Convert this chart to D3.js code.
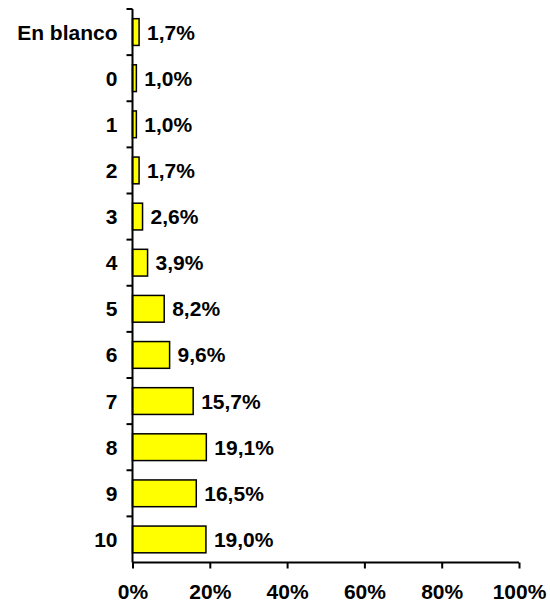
<!DOCTYPE html>
<html>
<head>
<meta charset="utf-8">
<script src="https://cdn.jsdelivr.net/npm/d3@7"></script>
<style>
  body { margin: 0; background: #fff; }
  text { font-family: "Liberation Sans", Arial, sans-serif; font-weight: bold; fill: #000; }
</style>
</head>
<body>
<script>
// categories and percentages
var categories = ["En blanco", "0", "1", "2", "3", "4", "5", "6", "7", "8", "9", "10"];
var values = [1.7, 1.0, 1.0, 1.7, 2.6, 3.9, 8.2, 9.6, 15.7, 19.1, 16.5, 19.0];
var xTicks = [0, 20, 40, 60, 80, 100];

var width = 550,
    height = 610,
    plotLeft = 132.5,
    plotRight = 519,
    plotTop = 9,
    plotBottom = 562.5,
    fontSize = "21px";

var data = categories.map(function (c, i) {
    return {cat: c, value: values[i]};
});

var svg = d3.select("body")
    .append("svg")
    .attr("width", width)
    .attr("height", height);

var x = d3.scaleLinear()
    .domain([0, 100])
    .range([plotLeft, plotRight]);

var y = d3.scaleBand()
    .domain(categories)
    .range([plotTop, plotBottom])
    .paddingInner(0.42)
    .paddingOuter(0.21);

// bars
svg.selectAll(".bar")
    .data(data)
    .enter()
    .append("rect")
    .attr("class", "bar")
    .attr("x", x(0))
    .attr("y", function (d) { return y(d.cat); })
    .attr("width", function (d) { return x(d.value) - x(0); })
    .attr("height", y.bandwidth())
    .attr("fill", "#ffff00")
    .attr("stroke", "#000")
    .attr("stroke-width", 1.5);

// value labels
svg.selectAll(".val")
    .data(data)
    .enter()
    .append("text")
    .attr("class", "val")
    .attr("x", function (d) { return x(d.value) + 8; })
    .attr("y", function (d) { return y(d.cat) + y.bandwidth() / 2; })
    .attr("dy", "0.36em")
    .attr("font-size", fontSize)
    .text(function (d) { return d.value.toFixed(1).replace(".", ",") + "%"; });

// category labels
svg.selectAll(".cat")
    .data(categories)
    .enter()
    .append("text")
    .attr("class", "cat")
    .attr("x", plotLeft - 15)
    .attr("y", function (d) { return y(d) + y.bandwidth() / 2; })
    .attr("dy", "0.36em")
    .attr("text-anchor", "end")
    .attr("font-size", fontSize)
    .text(function (d) { return d; });

// y axis line + ticks at category boundaries
var g = svg.append("g").attr("stroke", "#000").attr("stroke-width", 2);
g.append("line")
    .attr("x1", plotLeft).attr("x2", plotLeft)
    .attr("y1", plotTop).attr("y2", plotBottom);
d3.range(categories.length).forEach(function (i) {
    var yy = plotTop + i * y.step();
    g.append("line")
        .attr("x1", plotLeft - 6).attr("x2", plotLeft)
        .attr("y1", yy).attr("y2", yy);
});

// x axis
var xAxis = d3.axisBottom(x)
    .tickValues(xTicks)
    .tickSize(6)
    .tickPadding(16)
    .tickFormat(function (d) { return d + "%"; });

var ax = svg.append("g")
    .attr("transform", "translate(0," + plotBottom + ")")
    .call(xAxis);
ax.select(".domain").attr("stroke", "#000").attr("stroke-width", 2)
    .attr("d", "M" + plotLeft + ",0H" + plotRight);
ax.selectAll(".tick line").attr("stroke", "#000").attr("stroke-width", 2);
ax.selectAll(".tick text")
    .attr("font-size", fontSize)
    .attr("font-family", "Liberation Sans, Arial, sans-serif")
    .attr("font-weight", "bold")
    .attr("fill", "#000");
</script>
</body>
</html>
